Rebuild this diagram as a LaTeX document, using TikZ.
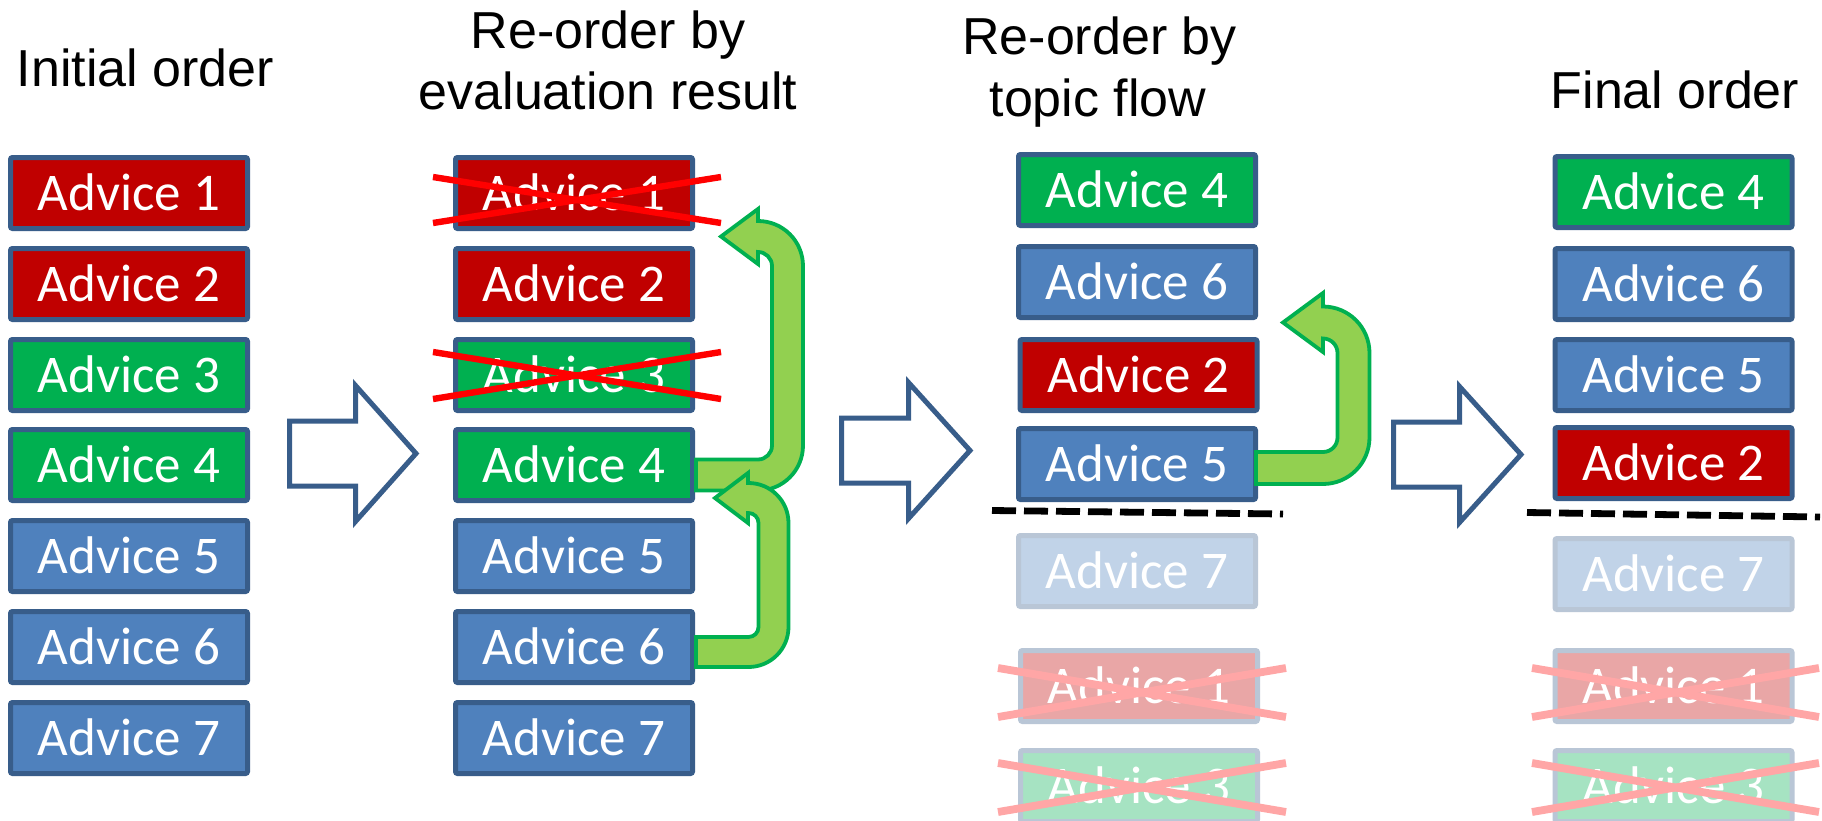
\documentclass[tikz,border=0pt]{standalone}
\usepackage{fontspec}
\setmainfont{Liberation Sans}
\newfontfamily\boxfont{Carlito}

\definecolor{advblue}{HTML}{4F81BD}
\definecolor{advred}{HTML}{C00000}
\definecolor{advgreen}{HTML}{00B050}
\definecolor{advedge}{HTML}{385D8A}
\definecolor{crossred}{HTML}{FF0000}
\definecolor{leafgreen}{HTML}{92D050}

% U-turn block arrow: #1 tail x, #2 tail y, #3 riser x, #4 head y,
% #5 half band width, #6 inner radius, #7 head base x, #8 tip x, #9 head half height
\newcommand\uturn[9]{%
  \pgfmathsetmacro\uro{#6+2*#5}%
  \draw[bendarrow]
    (#1,{#2-#5}) -- ({#3-#5-#6},{#2-#5})
    arc[start angle=90, end angle=0, radius=#6]
    -- ({#3-#5},{#4+#5+#6})
    arc[start angle=0, end angle=-90, radius=#6]
    -- (#7,{#4+#5}) -- (#7,{#4+#9}) -- (#8,#4) -- (#7,{#4-#9}) -- (#7,{#4-#5})
    -- ({#3-#5-#6},{#4-#5})
    arc[start angle=-90, end angle=0, radius=\uro]
    -- ({#3+#5},{#2+#5-\uro})
    arc[start angle=0, end angle=90, radius=\uro]
    -- (#1,{#2+#5}) -- cycle;}

% hollow block arrow: #1 left x, #2 head base x, #3 tip x, #4 axis y
\newcommand\blockarrow[4]{%
  \draw[hollowarrow] (#1,{#4-32.5}) -- (#2,{#4-32.5}) -- (#2,{#4-68}) -- (#3,#4)
    -- (#2,{#4+68}) -- (#2,{#4+32.5}) -- (#1,{#4+32.5}) -- cycle;}

% cross-out: #1 style, #2 left x, #3 right x, #4 top y, #5 bottom y
\newcommand\crossout[5]{%
  \draw[#1] (#2,#4) -- (#3,#5);
  \draw[#1] (#2,#5) -- (#3,#4);}

\begin{document}
\begin{tikzpicture}[x=0.5pt,y=-0.5pt,
  advice/.style={draw=advedge, line width=2.5pt, rounded corners=1pt,
    minimum width=118.5pt, minimum height=35.5pt, inner sep=0pt,
    text=white, font=\boxfont\fontsize{26.5}{30}\selectfont,
    text height=17pt, text depth=0pt},
  blueadv/.style={advice, fill=advblue},
  redadv/.style={advice, fill=advred},
  greenadv/.style={advice, fill=advgreen},
  fadeblue/.style={advice, fill=advblue!35!white, draw=advedge!35!white},
  fadered/.style={advice, fill=advred!35!white, draw=advedge!35!white},
  fadegreen/.style={advice, fill=advgreen!35!white, draw=advedge!35!white},
  title/.style={anchor=base, inner sep=0pt, font=\fontsize{26}{31}\selectfont},
  hollowarrow/.style={draw=advedge, fill=white, line width=2.5pt, line join=miter},
  bendarrow/.style={draw=advgreen, fill=leafgreen, line width=1.9pt, line join=miter},
  strike/.style={draw=crossred, line width=3.2pt},
  fadestrike/.style={draw=crossred!35!white, line width=3.9pt},
  cutline/.style={draw=black, line width=3.4pt, dash pattern=on 12pt off 4pt}]

\useasboundingbox (0,0) rectangle (1822,820);
\clip (0,0) rectangle (1822,820);
\fill[white] (0,0) rectangle (1822,820);

% column titles
\node[title] (t1)  at (145.5,86)  {Initial order};
\node[title] (t2a) at (608,48)    {Re-order by};
\node[title] (t2b) at (608,109)   {evaluation result};
\node[title] (t3a) at (1099.5,54) {Re-order by};
\node[title] (t3b) at (1098,116)  {topic flow};
\node[title] (t4)  at (1675,108)  {Final order};

% initial order
\node[redadv]   (a1) at (129,193) {Advice 1};
\node[redadv]   (a2) at (129,284) {Advice 2};
\node[greenadv] (a3) at (129,375) {Advice 3};
\node[greenadv] (a4) at (129,465) {Advice 4};
\node[blueadv]  (a5) at (129,556) {Advice 5};
\node[blueadv]  (a6) at (129,647) {Advice 6};
\node[blueadv]  (a7) at (129,738) {Advice 7};

% re-order by evaluation result
\node[redadv]   (b1) at (574,193) {Advice 1};
\node[redadv]   (b2) at (574,284) {Advice 2};
\node[greenadv] (b3) at (574,375) {Advice 3};
\node[greenadv] (b4) at (574,465) {Advice 4};
\node[blueadv]  (b5) at (574,556) {Advice 5};
\node[blueadv]  (b6) at (574,647) {Advice 6};
\node[blueadv]  (b7) at (574,738) {Advice 7};
\crossout{strike}{433}{721}{177}{223}
\crossout{strike}{433}{721}{352}{399}
\uturn{696}{475}{787.5}{236.5}{15.5}{14}{758}{721}{27.5}
\uturn{696}{652}{773.5}{498}{15}{10}{748}{715}{25}

% re-order by topic flow
\node[greenadv]  (c4) at (1137,190)   {Advice 4};
\node[blueadv]   (c6) at (1137,282)   {Advice 6};
\node[redadv]    (c2) at (1138.5,375) {Advice 2};
\node[blueadv]   (c5) at (1137,464)   {Advice 5};
\node[fadeblue]  (c7) at (1137,571)   {Advice 7};
\node[fadered]   (c1) at (1139,686)   {Advice 1};
\node[fadegreen] (c3) at (1139,786)   {Advice 3};
\crossout{fadestrike}{998}{1286}{668}{717}
\crossout{fadestrike}{998}{1286}{763}{812}
\uturn{1256}{468}{1353.5}{322.5}{16}{14.5}{1323}{1283}{29.5}
\draw[cutline] (992,510.5) -- (1283,514);

% final order
\node[greenadv]  (d4) at (1673.5,192) {Advice 4};
\node[blueadv]   (d6) at (1673.5,284) {Advice 6};
\node[blueadv]   (d5) at (1673.5,375) {Advice 5};
\node[redadv]    (d2) at (1673.5,463) {Advice 2};
\node[fadeblue]  (d7) at (1673.5,574) {Advice 7};
\node[fadered]   (d1) at (1673.5,686) {Advice 1};
\node[fadegreen] (d3) at (1673.5,786) {Advice 3};
\crossout{fadestrike}{1532}{1819}{668}{717}
\crossout{fadestrike}{1532}{1819}{763}{812}
\draw[cutline] (1527,512.5) -- (1820,517);

% stage arrows
\blockarrow{289.5}{355.5}{416}{453.5}
\blockarrow{841.5}{908.5}{970}{450.5}
\blockarrow{1393.5}{1459.5}{1521}{454.5}

\end{tikzpicture}
\end{document}
